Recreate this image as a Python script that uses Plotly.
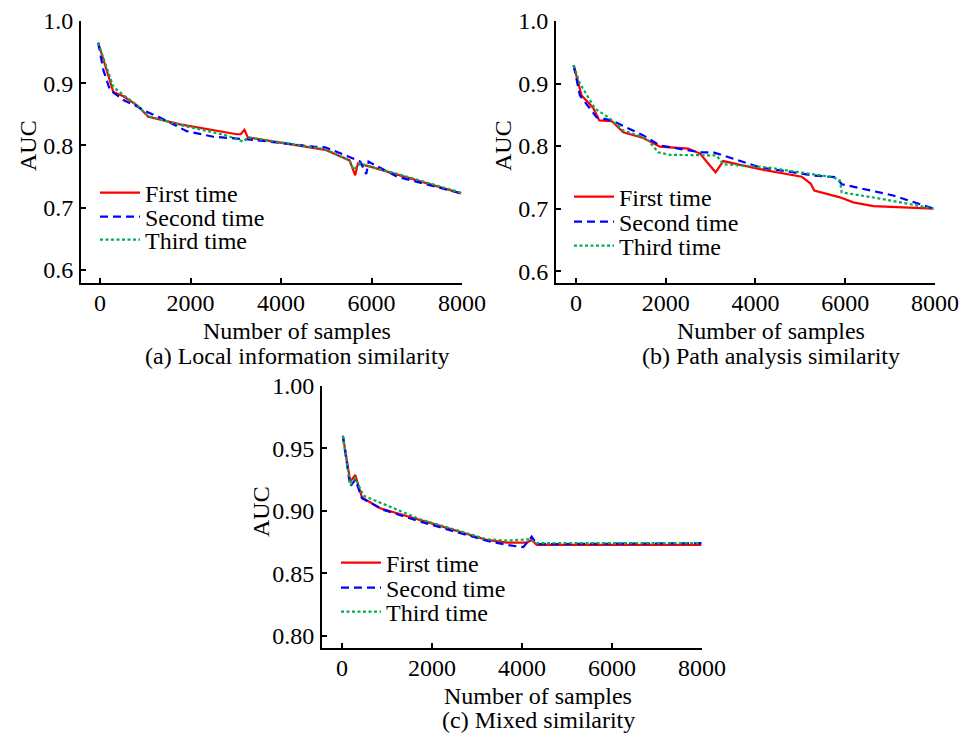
import plotly.graph_objects as go

W, H = 971, 733
FONT = "Liberation Serif"
FS = 24

# ---------------- data ----------------
series_names = ["First time", "Second time", "Third time"]

# (a) Local information similarity
a_first_x = [-40, 295, 516, 811, 1069, 1770, 3023, 3110, 3192, 3266, 4977, 5515, 5640, 5699, 5972, 6636, 7980]
a_first_y = [0.965, 0.886, 0.879, 0.865, 0.846, 0.834, 0.818, 0.818, 0.825, 0.813, 0.793, 0.776, 0.752, 0.771, 0.766, 0.752, 0.723]
a_second_x = [-40, 74, 221, 516, 811, 1032, 1290, 1917, 2507, 3023, 3392, 4719, 4977, 5500, 5751, 5884, 5935, 6562, 7373, 7980]
a_second_y = [0.965, 0.921, 0.889, 0.873, 0.863, 0.854, 0.846, 0.823, 0.814, 0.811, 0.809, 0.798, 0.797, 0.782, 0.774, 0.754, 0.774, 0.750, 0.734, 0.723]
a_third_x = [-40, 295, 516, 811, 1069, 1770, 2800, 3170, 3266, 4977, 5515, 5603, 5750, 5972, 6636, 7980]
a_third_y = [0.965, 0.894, 0.881, 0.865, 0.847, 0.833, 0.816, 0.806, 0.813, 0.794, 0.776, 0.761, 0.771, 0.766, 0.753, 0.724]

# (b) Path analysis similarity
b_first_x = [-50, 126, 386, 520, 795, 1055, 1500, 1872, 2503, 2763, 3112, 3283, 4100, 5029, 5229, 5311, 5883, 6180, 6626, 7963]
b_first_y = [0.929, 0.881, 0.861, 0.841, 0.840, 0.822, 0.813, 0.799, 0.796, 0.788, 0.758, 0.776, 0.763, 0.751, 0.740, 0.729, 0.718, 0.710, 0.704, 0.700]
b_second_x = [-50, 89, 460, 795, 1500, 1872, 2763, 3060, 4100, 5289, 5809, 5920, 7071, 7963]
b_second_y = [0.929, 0.881, 0.846, 0.841, 0.817, 0.801, 0.790, 0.790, 0.766, 0.753, 0.750, 0.739, 0.721, 0.700]
b_third_x = [-50, 89, 423, 720, 1055, 1575, 1835, 2095, 3134, 3283, 4249, 5735, 5883, 5920, 6775, 7963]
b_third_y = [0.929, 0.900, 0.860, 0.846, 0.825, 0.812, 0.790, 0.786, 0.785, 0.771, 0.766, 0.750, 0.745, 0.726, 0.716, 0.700]

# (c) Mixed similarity
c_first_x = [20, 185, 296, 444, 850, 1738, 2477, 3216, 3660, 4104, 4215, 4326, 7986]
c_first_y = [0.960, 0.9234, 0.9287, 0.9106, 0.902, 0.8927, 0.8847, 0.8766, 0.8745, 0.8745, 0.8766, 0.8726, 0.8726]
c_second_x = [20, 185, 296, 444, 924, 1738, 3216, 3660, 4030, 4215, 4326, 7986]
c_second_y = [0.960, 0.9194, 0.925, 0.910, 0.9007, 0.8913, 0.876, 0.8726, 0.8708, 0.8793, 0.8732, 0.874]
c_third_x = [20, 185, 296, 480, 1738, 3216, 3660, 4178, 4326, 7986]
c_third_y = [0.960, 0.9207, 0.926, 0.912, 0.8932, 0.8772, 0.8761, 0.8772, 0.874, 0.874]

x_ticks = [0, 2000, 4000, 6000, 8000]
x_ticktext = ["0", "2000", "4000", "6000", "8000"]
ab_y_ticks = [0.6, 0.7, 0.8, 0.9, 1.0]
ab_y_ticktext = ["0.6", "0.7", "0.8", "0.9", "1.0"]
c_y_ticks = [0.80, 0.85, 0.90, 0.95, 1.00]
c_y_ticktext = ["0.80", "0.85", "0.90", "0.95", "1.00"]

x_title = "Number of samples"
y_title = "AUC"
captions = ["(a) Local information similarity", "(b) Path analysis similarity", "(c) Mixed similarity"]

# ---------------- styles ----------------
colors = ["#FF0000", "#0000FF", "#00B050"]
dashes = ["solid", "8px,5px", "3px,2.5px"]

# panel geometry in pixels: (left, right, top, bottom)
panels = [
    dict(px=(81, 462, 21, 283), xr=[-420, 8000], yr=[0.579, 1.0], yt=ab_y_ticks, ytt=ab_y_ticktext,
         data=[(a_first_x, a_first_y), (a_second_x, a_second_y), (a_third_x, a_third_y)],
         leg_x=100, leg_rows=[193, 217, 240], xt_y=331, cap_y=356, tc_x=297, auc=(28, 146)),
    dict(px=(556, 935, 21, 283), xr=[-444, 8000], yr=[0.581, 1.0], yt=ab_y_ticks, ytt=ab_y_ticktext,
         data=[(b_first_x, b_first_y), (b_second_x, b_second_y), (b_third_x, b_third_y)],
         leg_x=574, leg_rows=[197, 222, 246], xt_y=331, cap_y=356, tc_x=771, auc=(503, 146)),
    dict(px=(322, 702, 386, 648), xr=[-444, 8000], yr=[0.79, 1.0], yt=c_y_ticks, ytt=c_y_ticktext,
         data=[(c_first_x, c_first_y), (c_second_x, c_second_y), (c_third_x, c_third_y)],
         leg_x=341, leg_rows=[563, 588, 612], xt_y=696, cap_y=720, tc_x=538, auc=(261, 512)),
]

fig = go.Figure()
layout = dict(template="none", width=W, height=H, autosize=False,
              margin=dict(l=0, r=0, t=0, b=0, pad=0),
              paper_bgcolor="white", plot_bgcolor="white",
              font=dict(family=FONT, size=FS, color="black"), showlegend=True)
annotations = []
leg_idx = 0
for i, p in enumerate(panels):
    xa = "xaxis" if i == 0 else f"xaxis{i+1}"
    ya = "yaxis" if i == 0 else f"yaxis{i+1}"
    xref = "x" if i == 0 else f"x{i+1}"
    yref = "y" if i == 0 else f"y{i+1}"
    l, r, t, b = p["px"]
    layout[xa] = dict(domain=[l / W, r / W], range=p["xr"], anchor=yref, automargin=False,
                      tickvals=x_ticks, ticktext=x_ticktext,
                      showline=True, linecolor="black", linewidth=2,
                      ticks="inside", ticklen=5, tickwidth=1.5, tickcolor="black",
                      showgrid=False, zeroline=False, ticklabelstandoff=-3,
                      tickfont=dict(family=FONT, size=FS, color="black"))
    layout[ya] = dict(domain=[1 - b / H, 1 - t / H], range=p["yr"], anchor=xref, automargin=False,
                      tickvals=p["yt"], ticktext=p["ytt"],
                      showline=True, linecolor="black", linewidth=2,
                      ticks="inside", ticklen=5, tickwidth=1.5, tickcolor="black",
                      showgrid=False, zeroline=False, ticklabelstandoff=1,
                      tickfont=dict(family=FONT, size=FS, color="black"))
    for k, (xs, ys) in enumerate(p["data"]):
        leg_idx += 1
        lname = "legend" if leg_idx == 1 else f"legend{leg_idx}"
        fig.add_trace(go.Scatter(x=xs, y=ys, mode="lines", name=series_names[k],
                                 line=dict(color=colors[k], width=2.2, dash=dashes[k]),
                                 xaxis=xref, yaxis=yref, legend=lname, showlegend=True,
                                 hoverinfo="skip"))
        layout[lname] = dict(x=(p["leg_x"] - 5) / W, y=1 - p["leg_rows"][k] / H,
                             xanchor="left", yanchor="middle",
                             bgcolor="rgba(0,0,0,0)", borderwidth=0,
                             font=dict(family=FONT, size=FS, color="black"),
                             itemwidth=40)
    annotations.append(dict(text=x_title, xref="paper", yref="paper", x=p["tc_x"] / W,
                            y=1 - p["xt_y"] / H, xanchor="center", yanchor="middle",
                            showarrow=False, font=dict(family=FONT, size=FS, color="black")))
    annotations.append(dict(text=captions[i], xref="paper", yref="paper", x=p["tc_x"] / W,
                            y=1 - p["cap_y"] / H, xanchor="center", yanchor="middle",
                            showarrow=False, font=dict(family=FONT, size=FS, color="black")))
    annotations.append(dict(text=y_title, xref="paper", yref="paper", x=p["auc"][0] / W,
                            y=1 - p["auc"][1] / H, xanchor="center", yanchor="middle",
                            textangle=-90, showarrow=False,
                            font=dict(family=FONT, size=FS, color="black")))
layout["annotations"] = annotations
fig.update_layout(**layout)
fig.write_html("out.html", config={"displayModeBar": False},
               post_script="document.body.style.margin='0';document.body.style.overflow='hidden';")
